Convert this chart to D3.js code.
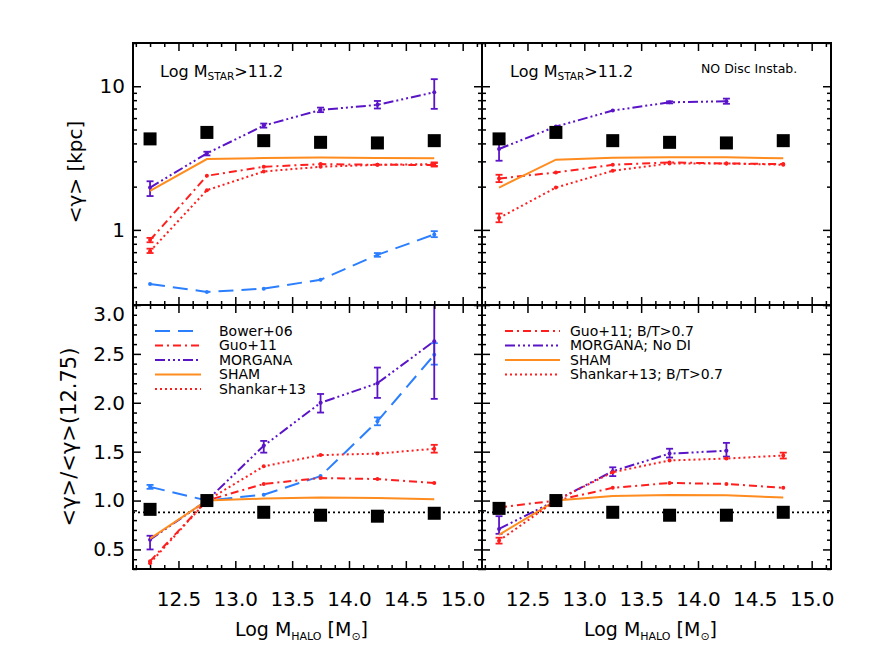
<!DOCTYPE html>
<html>
<head>
<meta charset="utf-8">
<script src="https://cdn.jsdelivr.net/npm/d3@7/dist/d3.min.js"></script>
<style>
body{margin:0;background:#fff;}
text{font-family:"DejaVu Sans",sans-serif;fill:#000;}
</style>
</head>
<body>
<script>
// halo mass bins
var haloMass = [12.25, 12.75, 13.25, 13.75, 14.25, 14.75];
var xTicks = [12.5, 13.0, 13.5, 14.0, 14.5, 15.0];
var sizeTicks = [1, 10];
var ratioTicks = [0.5, 1.0, 1.5, 2.0, 2.5, 3.0];
var ratioRef = 0.88;

// black squares (data)
var obsSize = [4.30, 4.77, 4.18, 4.07, 4.03, 4.18];
var obsRatio = [0.91, 1.0, 0.88, 0.85, 0.84, 0.87];
var obsRatioR = [0.92, 1.0, 0.88, 0.85, 0.85, 0.88];

// top left: <R> [kpc]
var bowerSize = [0.42, 0.37, 0.39, 0.45, 0.67, 0.93];
var guoSize = [0.85, 2.38, 2.75, 2.87, 2.84, 2.83];
var morganaSize = [1.97, 3.41, 5.32, 6.84, 7.42, 9.08];
var shamSize = [1.87, 3.11, 3.16, 3.19, 3.17, 3.15];
var shankarSize = [0.71, 1.89, 2.55, 2.75, 2.84, 2.87];
var bowerSizeErr = [null, null, null, null, [0.65, 0.69], [0.89, 0.98]];
var guoSizeErr = [[0.82, 0.88], null, null, null, null, [2.76, 2.92]];
var morganaSizeErr = [[1.72, 2.18], [3.3, 3.5], [5.15, 5.5], [6.6, 7.1], [7.0, 7.9], [6.96, 11.2]];
var shankarSizeErr = [[0.69, 0.74], null, null, null, null, [2.79, 2.95]];

// top right: no disc instabilities
var guoSizeR = [2.28, 2.51, 2.84, 2.95, 2.90, 2.87];
var morganaSizeR = [3.66, 5.24, 6.77, 7.73, 7.86, null];
var shamSizeR = [1.97, 3.08, 3.18, 3.20, 3.20, 3.15];
var shankarSizeR = [1.21, 1.97, 2.58, 2.90, 2.90, 2.84];
var guoSizeRErr = [[2.15, 2.42], null, null, null, null, null];
var morganaSizeRErr = [[3.03, 4.06], null, null, [7.6, 7.85], [7.55, 8.2], null];
var shankarSizeRErr = [[1.13, 1.30], null, null, null, null, null];

// bottom left: <R>/<R>(12.75)
var bowerRatio = [1.14, 1.0, 1.06, 1.25, 1.81, 2.49];
var guoRatio = [0.38, 1.0, 1.17, 1.23, 1.22, 1.18];
var morganaRatio = [0.60, 1.0, 1.56, 2.0, 2.2, 2.63];
var shamRatio = [0.61, 1.0, 1.02, 1.03, 1.025, 1.013];
var shankarRatio = [0.36, 1.0, 1.35, 1.465, 1.48, 1.53];
var bowerRatioErr = [[1.12, 1.16], null, null, null, [1.77, 1.85], [2.39, 2.61]];
var morganaRatioErr = [[0.5, 0.64], null, [1.49, 1.61], [1.90, 2.09], [2.05, 2.36], [2.04, 3.3]];
var shankarRatioErr = [null, null, null, null, null, [1.49, 1.57]];

// bottom right
var guoRatioR = [0.93, 1.0, 1.13, 1.18, 1.17, 1.13];
var morganaRatioR = [0.71, 1.0, 1.30, 1.48, 1.51, null];
var shamRatioR = [0.65, 1.0, 1.047, 1.058, 1.055, 1.03];
var shankarRatioR = [0.59, 1.0, 1.29, 1.41, 1.43, 1.46];
var guoRatioRErr = [[0.88, 0.97], null, null, null, null, null];
var morganaRatioRErr = [[0.66, 0.84], null, [1.25, 1.34], [1.44, 1.53], [1.45, 1.59], null];
var shankarRatioRErr = [[0.56, 0.62], null, null, null, null, [1.43, 1.49]];

var legendLeft = ["Bower+06", "Guo+11", "MORGANA", "SHAM", "Shankar+13"];
var legendRight = ["Guo+11; B/T>0.7", "MORGANA; No DI", "SHAM", "Shankar+13; B/T>0.7"];

var styles = {
    bower: {color: "#2b7fff", dash: "15,8"},
    guo: {color: "#ff1e1e", dash: "8,4,2,4"},
    morgana: {color: "#5a14c8", dash: "10,3,2,3,2,3,2,3"},
    sham: {color: "#ff8c1e", dash: null},
    shankar: {color: "#ff1e1e", dash: "2,3"}
};

var svg = d3.select("body").append("svg")
            .attr("width", 872)
            .attr("height", 654);

var L = 133, M = 482, R = 831, T = 43, MID = 305, B = 569;

var xLeft = d3.scaleLinear().domain([12.1, 15.17]).range([L, M]);
var xRight = d3.scaleLinear().domain([12.1, 15.17]).range([M, R]);
var ySize = d3.scaleLog().domain([0.3, 20]).range([MID, T]);
var yRatio = d3.scaleLinear().domain([0.3, 3.0]).range([B, MID]);

var xMinor = d3.range(12.125, 15.17, 0.125).filter(function(d){ return xTicks.indexOf(d) < 0; });
var sizeMinor = ySize.ticks().filter(function(d){ return sizeTicks.indexOf(d) < 0; });
var ratioMinor = d3.range(3, 31).filter(function(d){ return d % 5 != 0; }).map(function(d){ return d / 10; });

function addAxis(g, axis, pos, vals, len, fmt, pad){
    var a = g.append("g")
        .attr("transform", pos)
        .call(axis.tickValues(vals).tickSize(-len).tickPadding(pad || 3).tickFormat(fmt || ""));
    a.select(".domain").remove();
    a.selectAll("line").attr("stroke", "#000").attr("stroke-width", 1.5);
    a.attr("font-size", 20).attr("font-family", "DejaVu Sans");
    return a;
}

function panel(id, x, y, series, squares, yMajor, yMinor, yFmt, showX, showY, hline){
    var g = svg.append("g");
    var x0 = x.range()[0], x1 = x.range()[1];
    var y0 = y.range()[1], y1 = y.range()[0];
    svg.append("clipPath").attr("id", "clip" + id)
       .append("rect").attr("x", x0).attr("y", y0).attr("width", x1 - x0).attr("height", y1 - y0);
    var plot = g.append("g").attr("clip-path", "url(#clip" + id + ")");

    if (hline != null) {
        plot.append("line")
            .attr("x1", x0).attr("x2", x1)
            .attr("y1", y(hline)).attr("y2", y(hline))
            .attr("stroke", "#000").attr("stroke-width", 1.8)
            .attr("stroke-dasharray", "2,3");
    }

    series.forEach(function(s){
        var st = styles[s.model];
        var pts = haloMass.map(function(m, i){
            return {x: m, y: s.values[i], e: s.err ? s.err[i] : null};
        }).filter(function(d){ return d.y != null; });
        var line = d3.line()
            .x(function(d){ return x(d.x); })
            .y(function(d){ return y(d.y); });
        plot.append("path").datum(pts)
            .attr("d", line)
            .attr("fill", "none")
            .attr("stroke", st.color)
            .attr("stroke-width", 2)
            .attr("stroke-dasharray", st.dash);
        if (s.model != "sham") {
            plot.selectAll(null).data(pts).enter().append("circle")
                .attr("cx", function(d){ return x(d.x); })
                .attr("cy", function(d){ return y(d.y); })
                .attr("r", 2)
                .attr("fill", st.color);
        }
        var eb = pts.filter(function(d){ return d.e; });
        var bars = plot.selectAll(null).data(eb).enter().append("g")
            .attr("stroke", st.color).attr("stroke-width", 1.8);
        bars.append("line")
            .attr("x1", function(d){ return x(d.x); }).attr("x2", function(d){ return x(d.x); })
            .attr("y1", function(d){ return y(d.e[0]); }).attr("y2", function(d){ return y(d.e[1]); });
        [0, 1].forEach(function(k){
            bars.append("line")
                .attr("x1", function(d){ return x(d.x) - 3.5; }).attr("x2", function(d){ return x(d.x) + 3.5; })
                .attr("y1", function(d){ return y(d.e[k]); }).attr("y2", function(d){ return y(d.e[k]); });
        });
    });

    plot.selectAll(null).data(squares).enter().append("rect")
        .attr("x", function(d, i){ return x(haloMass[i]) - 6.5; })
        .attr("y", function(d){ return y(d) - 6.5; })
        .attr("width", 13).attr("height", 13)
        .attr("fill", "#000");

    // ticks on all four sides
    addAxis(g, d3.axisBottom(x), "translate(0," + y1 + ")", xTicks, 8, showX ? d3.format(".1f") : null, 23);
    addAxis(g, d3.axisBottom(x), "translate(0," + y1 + ")", xMinor, 4);
    addAxis(g, d3.axisTop(x), "translate(0," + y0 + ")", xTicks, 8);
    addAxis(g, d3.axisTop(x), "translate(0," + y0 + ")", xMinor, 4);
    var ya = addAxis(g, d3.axisLeft(y), "translate(" + x0 + ",0)", yMajor, 8, showY ? yFmt : null, 8);
    addAxis(g, d3.axisLeft(y), "translate(" + x0 + ",0)", yMinor, 4);
    addAxis(g, d3.axisRight(y), "translate(" + x1 + ",0)", yMajor, 8);
    addAxis(g, d3.axisRight(y), "translate(" + x1 + ",0)", yMinor, 4);
    ya.selectAll("text").filter(function(d){ return d == 3; }).attr("y", 9);

    g.append("rect")
        .attr("x", x0).attr("y", y0).attr("width", x1 - x0).attr("height", y1 - y0)
        .attr("fill", "none").attr("stroke", "#000").attr("stroke-width", 2);
    return g;
}

panel("tl", xLeft, ySize, [
    {model: "bower", values: bowerSize, err: bowerSizeErr},
    {model: "guo", values: guoSize, err: guoSizeErr},
    {model: "morgana", values: morganaSize, err: morganaSizeErr},
    {model: "sham", values: shamSize},
    {model: "shankar", values: shankarSize, err: shankarSizeErr}
], obsSize, sizeTicks, sizeMinor, d3.format("d"), false, true, null);

panel("tr", xRight, ySize, [
    {model: "guo", values: guoSizeR, err: guoSizeRErr},
    {model: "morgana", values: morganaSizeR, err: morganaSizeRErr},
    {model: "sham", values: shamSizeR},
    {model: "shankar", values: shankarSizeR, err: shankarSizeRErr}
], obsSize, sizeTicks, sizeMinor, null, false, false, null);

panel("bl", xLeft, yRatio, [
    {model: "bower", values: bowerRatio, err: bowerRatioErr},
    {model: "guo", values: guoRatio},
    {model: "morgana", values: morganaRatio, err: morganaRatioErr},
    {model: "sham", values: shamRatio},
    {model: "shankar", values: shankarRatio, err: shankarRatioErr}
], obsRatio, ratioTicks, ratioMinor, d3.format(".1f"), true, true, ratioRef);

panel("br", xRight, yRatio, [
    {model: "guo", values: guoRatioR, err: guoRatioRErr},
    {model: "morgana", values: morganaRatioR, err: morganaRatioRErr},
    {model: "sham", values: shamRatioR},
    {model: "shankar", values: shankarRatioR, err: shankarRatioRErr}
], obsRatioR, ratioTicks, ratioMinor, null, true, false, ratioRef);

// legends
function legend(labels, models, xa, xb, xt, ytop){
    labels.forEach(function(lab, i){
        var st = styles[models[i]];
        var yy = ytop + i * 14.5;
        svg.append("line")
            .attr("x1", xa).attr("x2", xb).attr("y1", yy).attr("y2", yy)
            .attr("stroke", st.color).attr("stroke-width", 2)
            .attr("stroke-dasharray", st.dash);
        svg.append("text")
            .attr("x", xt).attr("y", yy).attr("dy", "0.35em")
            .attr("font-size", 14)
            .text(lab);
    });
}
legend(legendLeft, ["bower", "guo", "morgana", "sham", "shankar"], 155, 201, 219, 331);
legend(legendRight, ["guo", "morgana", "sham", "shankar"], 505, 560, 570, 331);

// panel labels
function mstar(xp){
    var t = svg.append("text").attr("x", xp).attr("y", 77).attr("font-size", 16);
    t.append("tspan").text("Log M");
    t.append("tspan").attr("font-size", 10.5).attr("dy", 3).text("STAR");
    t.append("tspan").attr("dy", -3).text(">11.2");
}
mstar(160);
mstar(510);
svg.append("text").attr("x", 701).attr("y", 73).attr("font-size", 12.5).text("NO Disc Instab.");

// axis titles
[xLeft, xRight].forEach(function(x){
    var c = (x.range()[0] + x.range()[1]) / 2 - 6;
    var t = svg.append("text").attr("x", c).attr("y", 636)
        .attr("text-anchor", "middle").attr("font-size", 19);
    t.append("tspan").text("Log M");
    t.append("tspan").attr("font-size", 11).attr("dy", 4).text("HALO");
    t.append("tspan").attr("dy", -4).text(" [M");
    t.append("tspan").attr("font-size", 11).attr("dy", 4).text("\u2299");
    t.append("tspan").attr("dy", -4).text("]");
});

svg.append("text")
    .attr("transform", "translate(82,172) rotate(-90)")
    .attr("text-anchor", "middle").attr("font-size", 20)
    .text("<\u03b3> [kpc]");
svg.append("text")
    .attr("transform", "translate(76,437) rotate(-90)")
    .attr("text-anchor", "middle").attr("font-size", 21)
    .text("<\u03b3>/<\u03b3>(12.75)");
</script>
</body>
</html>
